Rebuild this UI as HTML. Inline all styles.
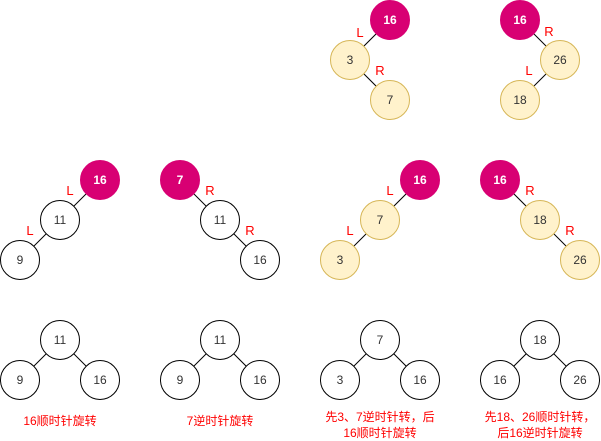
<!DOCTYPE html>
<html><head><meta charset="utf-8"><style>
html,body{margin:0;padding:0;background:#fff;width:601px;height:441px;overflow:hidden}
svg text{font-family:"Liberation Sans","Noto Sans CJK SC",sans-serif}
</style></head><body>
<svg id="d" width="601" height="441" xmlns="http://www.w3.org/2000/svg"></svg>
<script>
// nodes: [label, cx, cy, style] style: m=magenta, y=yellow, w=white
const nodeLabels=["16","3","7","16","26","18","16","11","9","7","11","16","16","7","3","16","18","26","11","9","16","11","9","16","7","3","16","18","16","26"];
const nodeX=[390,350,390,520,560,520,100,60,20,180,220,260,420,380,340,500,540,580,60,20,100,220,180,260,380,340,420,540,500,580];
const nodeY=[20,60,100,20,60,100,180,220,260,180,220,260,180,220,260,180,220,260,340,380,380,340,380,380,340,380,380,340,380,380];
const nodeStyle=["m","y","y","m","y","y","m","w","w","m","w","w","m","y","y","m","y","y","w","w","w","w","w","w","w","w","w","w","w","w"];
const edges=[[0,1],[1,2],[3,4],[4,5],[6,7],[7,8],[9,10],[10,11],[12,13],[13,14],[15,16],[16,17],[18,19],[18,20],[21,22],[21,23],[24,25],[24,26],[27,28],[27,29]];
const edgeText=["L","R","R","L","L","L","R","R","L","L","R","R"];
const edgeTx=[360,380,549,529,70,30,210,250,390,350,530,570];
const edgeTy=[32,70,31,70,190,230,190,230,190,230,190,230];
const captions=[["16顺时针旋转"],["7逆时针旋转"],["先3、7逆时针转，后","16顺时针旋转"],["先18、26顺时针转，","后16逆时针旋转"]];
const capX=[60,220,380,540];
const svg=document.getElementById('d');
const NS='http://www.w3.org/2000/svg';
function mk(t,a){const e=document.createElementNS(NS,t);for(const k in a)e.setAttribute(k,a[k]);svg.appendChild(e);return e;}
edges.forEach(([a,b],i)=>{
  const l=mk('line',{x1:nodeX[a],y1:nodeY[a],x2:nodeX[b],y2:nodeY[b],stroke:'#000','stroke-width':1});
  
  
});
const fills={m:'#d80073',y:'#fff2cc',w:'#ffffff'},strokes={m:'#d80073',y:'#d6b656',w:'#000000'};
nodeLabels.forEach((t,i)=>{
  const s=nodeStyle[i];
  const c=mk('circle',{cx:nodeX[i],cy:nodeY[i],r:19.5,fill:fills[s],stroke:strokes[s],'stroke-width':1});
  
  
  const tx=mk('text',{x:nodeX[i],y:nodeY[i]+4,'text-anchor':'middle','font-size':12,fill:s==='m'?'#fff':'#333','font-weight':s==='m'?'bold':'normal'});
  tx.textContent=t;
  
  
});
edgeText.forEach((t,i)=>{
  const tx=mk('text',{x:edgeTx[i],y:edgeTy[i]+5,'text-anchor':'middle','font-size':13,fill:'#ff0000'});
  tx.textContent=t;
  
  
});
captions.forEach((lines,i)=>{
  lines.forEach((t,j)=>{
    const y=lines.length===1?421:417+j*16;
    const tx=mk('text',{x:capX[i],y:y+4,'text-anchor':'middle','font-size':12,fill:'#ff0000'});
    tx.textContent=t;
    
    
  });
});
</script>
</body></html>
